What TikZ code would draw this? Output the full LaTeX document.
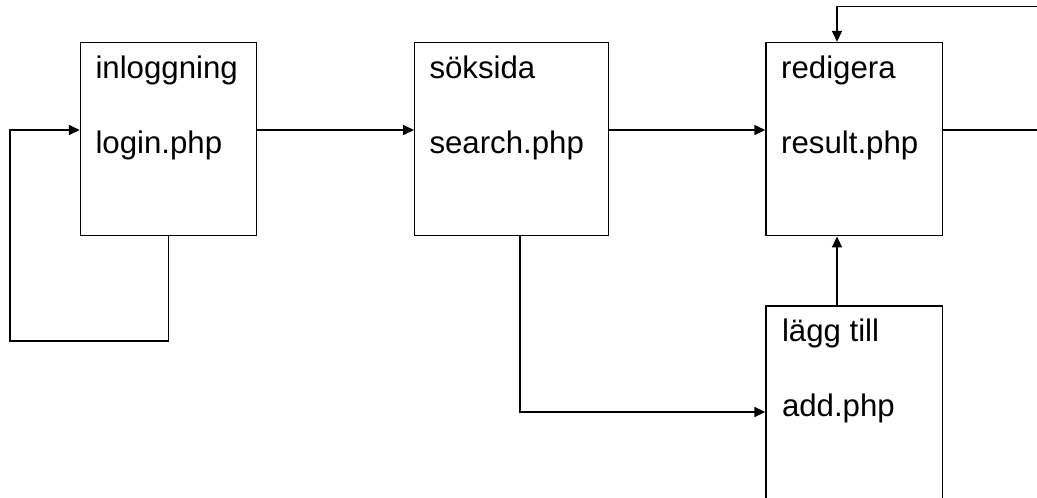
\documentclass[tikz,border=0pt]{standalone}
\usepackage{fontspec}
\setmainfont{Liberation Sans}
\usetikzlibrary{arrows.meta,calc}
\begin{document}
\begin{tikzpicture}[x=0.75pt,y=-0.75pt,
  pagebox/.style={draw=black,line width=1.1pt,minimum height=144.9pt,inner sep=0pt},
  lbl/.style={anchor=base west,inner sep=0pt,font=\fontsize{23.4}{27}\selectfont},
  conn/.style={line width=1.1pt},
  arr/.style={conn,-{Triangle[length=8.2pt,width=7.5pt]}}]
\useasboundingbox (0,0) rectangle (1037,497);
% boxes
\node[pagebox,minimum width=132.15pt] (login)  at (168.6,139.1) {};
\node[pagebox,minimum width=145.2pt]  (search) at (511.5,139.1) {};
\node[pagebox,minimum width=132.4pt]  (result) at (854.25,139.1) {};
\node[pagebox,minimum width=132.4pt]  (add)    at (854.25,402.6) {};
% texts
\node[lbl] (loginA)  at ($(login.north west)+(15.5,36.5)$)  {inloggning};
\node[lbl] (loginB)  at ($(login.north west)+(15.5,111.5)$) {login.php};
\node[lbl] (searchA) at ($(search.north west)+(15.3,36.5)$) {söksida};
\node[lbl] (searchB) at ($(search.north west)+(15.3,111.5)$) {search.php};
\node[lbl] (resultA) at ($(result.north west)+(15.7,36.5)$) {redigera};
\node[lbl] (resultB) at ($(result.north west)+(15.7,111.5)$) {result.php};
\node[lbl] (addA)    at ($(add.north west)+(16.5,36.5)$) {lägg till};
\node[lbl] (addB)    at ($(add.north west)+(16.5,111.5)$) {add.php};
% free ends
\coordinate (outR) at (1045,130);
\coordinate (outT) at (1045,6.7);
\coordinate (loopBL) at (10,341);
% connectors
\draw[arr] (login.south) -- (login.south |- loopBL) -- (loopBL) -- (10,130) -- (login.west |- 0,130);
\draw[arr] (login.east |- 0,130) -- (search.west |- 0,130);
\draw[arr] (search.east |- 0,130) -- (result.west |- 0,130);
\draw[arr] (search.south -| 520,0) |- (add.west |- 0,412);
\draw[arr] (add.north -| 837,0) -- (result.south -| 837,0);
\draw[conn] (result.east |- 0,130) -- (outR);
\draw[arr] (outT) -| (result.north -| 837,0);
\end{tikzpicture}
\end{document}
